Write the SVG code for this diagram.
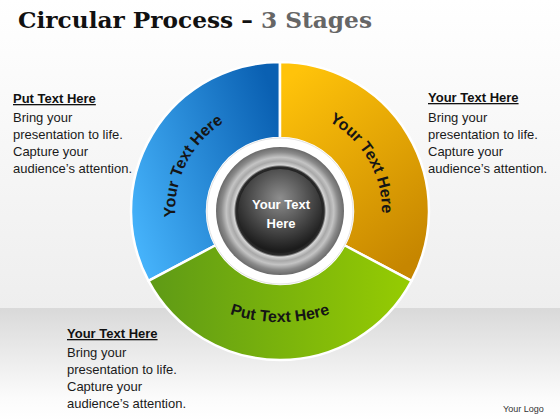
<svg xmlns="http://www.w3.org/2000/svg" width="560" height="420" viewBox="0 0 560 420">
<defs>
<style>
.h{font-family:"Liberation Sans",Arial,sans-serif;font-size:13px;font-weight:bold;fill:#111;text-decoration:underline;}
.b{font-family:"Liberation Sans",Arial,sans-serif;font-size:13px;fill:#1a1a1a;}
.seg{stroke:#ffffff;stroke-width:2.5;stroke-linejoin:round;}
.lbl{font-family:"Liberation Sans",Arial,sans-serif;font-size:16px;font-weight:bold;fill:#151515;}
</style>
<linearGradient id="bgTop" x1="0" y1="0" x2="0" y2="1">
<stop offset="0" stop-color="#ffffff"/><stop offset="1" stop-color="#eeeeee"/>
</linearGradient>
<linearGradient id="bgBot" x1="0" y1="0" x2="0" y2="1">
<stop offset="0" stop-color="#d9d9d9"/><stop offset="0.8" stop-color="#fbfbfb"/><stop offset="1" stop-color="#ffffff"/>
</linearGradient>
<linearGradient id="gBlue" x1="0" y1="0.75" x2="1" y2="0.25">
<stop offset="0" stop-color="#45b2fa"/><stop offset="1" stop-color="#0a60b2"/>
</linearGradient>
<linearGradient id="gOrange" x1="0.2" y1="0" x2="0.7" y2="1">
<stop offset="0" stop-color="#ffc30a"/><stop offset="1" stop-color="#c68600"/>
</linearGradient>
<linearGradient id="gGreen" x1="0" y1="0" x2="1" y2="0">
<stop offset="0" stop-color="#5e9a16"/><stop offset="1" stop-color="#96cc02"/>
</linearGradient>
<radialGradient id="gRing" cx="0.5" cy="0.5" r="0.5">
<stop offset="0.64" stop-color="#1e1e1e"/>
<stop offset="0.69" stop-color="#2c2c2c"/>
<stop offset="0.72" stop-color="#d6d6d6"/>
<stop offset="0.78" stop-color="#a8a8a8"/>
<stop offset="0.84" stop-color="#c4c4c4"/>
<stop offset="0.92" stop-color="#8a8a8a"/>
<stop offset="1" stop-color="#6a6a6a"/>
</radialGradient>
<radialGradient id="gBtn" cx="0.5" cy="0.35" r="0.62">
<stop offset="0" stop-color="#8e8e8e"/><stop offset="0.6" stop-color="#4a4a4a"/><stop offset="1" stop-color="#1c1c1c"/>
</radialGradient>
<path id="pBlue" d="M 192.0 268.1 A 105 105 0 0 1 274.5 106.1"/>
<path id="pOrange" d="M 278.2 109.0 A 102 102 0 0 1 367.4 263.5"/>
<path id="pGreen" d="M 200 300.6 A 160 160 0 0 0 360 300.6"/>
</defs>

<rect x="0" y="0" width="560" height="308" fill="url(#bgTop)"/>
<rect x="0" y="308" width="560" height="112" fill="url(#bgBot)"/>

<g id="title">
<text x="18" y="28" font-family="'DejaVu Serif','Liberation Serif',serif" font-size="22" font-weight="bold" fill="#111" textLength="354" lengthAdjust="spacingAndGlyphs">Circular Process – <tspan fill="#666">3 Stages</tspan></text>
</g>

<g id="seg-blue">
<path class="seg" fill="url(#gBlue)" d="M 148.44 280.95 A 149 149 0 0 1 280 62 L 280 138 A 73 73 0 0 0 215.55 245.27 Z"/>
<text class="lbl"><textPath href="#pBlue" startOffset="50%" text-anchor="middle">Your Text Here</textPath></text>
</g>
<g id="seg-orange">
<path class="seg" fill="url(#gOrange)" d="M 280 62 A 149 149 0 0 1 411.56 280.95 L 344.45 245.27 A 73 73 0 0 0 280 138 Z"/>
<text class="lbl"><textPath href="#pOrange" startOffset="50%" text-anchor="middle">Your Text Here</textPath></text>
</g>
<g id="seg-green">
<path class="seg" fill="url(#gGreen)" d="M 411.56 280.95 A 149 149 0 0 1 148.44 280.95 L 215.55 245.27 A 73 73 0 0 0 344.45 245.27 Z"/>
<text class="lbl"><textPath href="#pGreen" startOffset="50%" text-anchor="middle">Put Text Here</textPath></text>
</g>

<g id="center">
<circle cx="280" cy="211" r="73" fill="#ffffff" stroke="#e4e4e4" stroke-width="1"/>
<circle cx="280" cy="211" r="64" fill="url(#gRing)"/>
<circle cx="280" cy="211" r="42" fill="url(#gBtn)"/>
<text x="281" y="209" text-anchor="middle" font-family="'Liberation Sans',Arial,sans-serif" font-size="13" font-weight="bold" fill="#ffffff">Your Text</text>
<text x="281" y="228" text-anchor="middle" font-family="'Liberation Sans',Arial,sans-serif" font-size="13" font-weight="bold" fill="#ffffff">Here</text>
</g>

<g id="text-left">
<text class="h" x="13" y="103">Put Text Here</text>
<text class="b" x="13" y="122">Bring your</text>
<text class="b" x="13" y="139">presentation to life.</text>
<text class="b" x="13" y="156">Capture your</text>
<text class="b" x="13" y="173">audience’s attention.</text>
</g>
<g id="text-right">
<text class="h" x="428" y="102">Your Text Here</text>
<text class="b" x="428" y="122">Bring your</text>
<text class="b" x="428" y="139">presentation to life.</text>
<text class="b" x="428" y="156">Capture your</text>
<text class="b" x="428" y="173">audience’s attention.</text>
</g>
<g id="text-bottom">
<text class="h" x="67" y="338">Your Text Here</text>
<text class="b" x="67" y="357">Bring your</text>
<text class="b" x="67" y="374">presentation to life.</text>
<text class="b" x="67" y="391">Capture your</text>
<text class="b" x="67" y="408">audience’s attention.</text>
</g>
<g id="logo">
<text x="503" y="412" font-family="'Liberation Sans',Arial,sans-serif" font-size="9" fill="#333">Your Logo</text>
</g>
</svg>
